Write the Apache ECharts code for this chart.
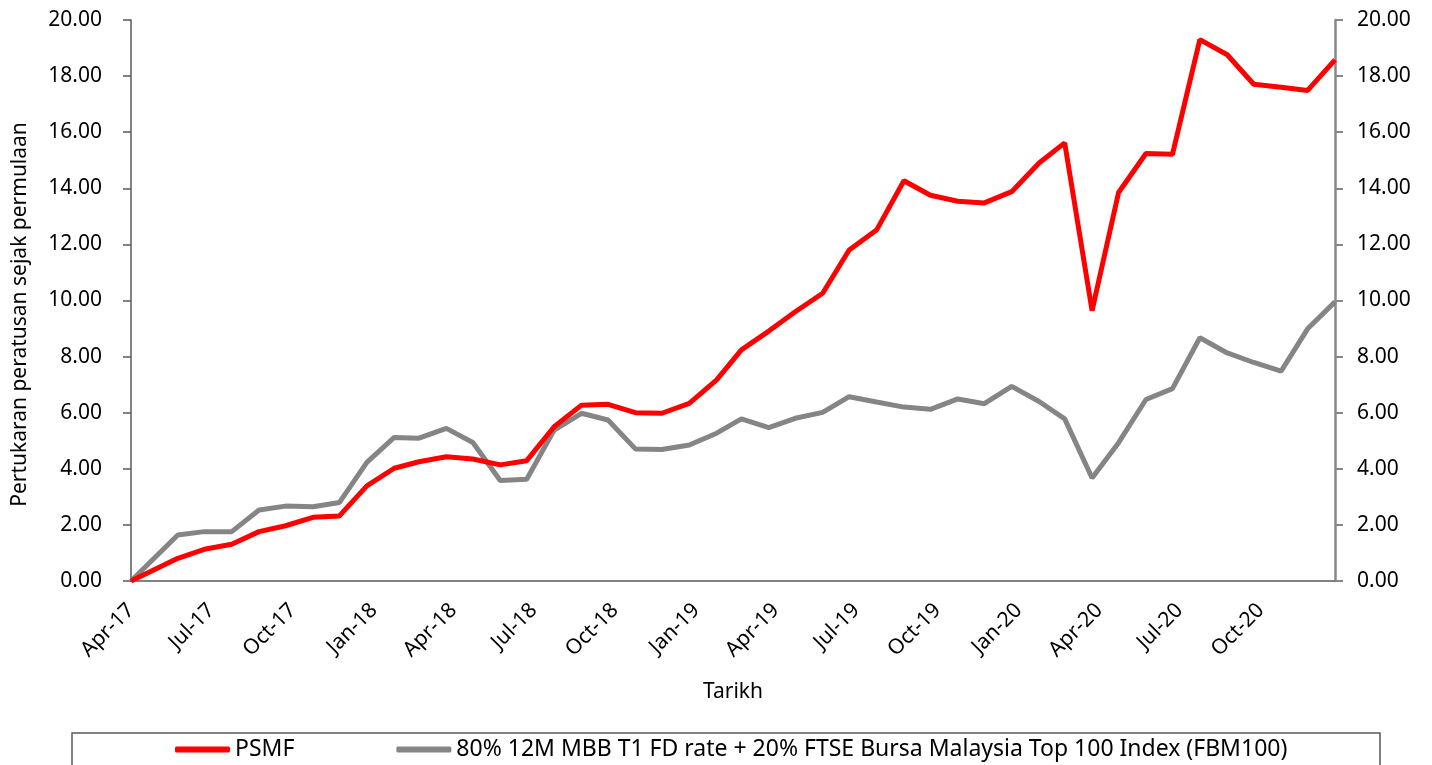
<!DOCTYPE html>
<html>
<head>
<meta charset="utf-8">
<title>PSMF</title>
<script src="https://cdn.jsdelivr.net/npm/echarts@6/dist/echarts.min.js"></script>
<style>
  html, body { margin: 0; padding: 0; background: #fff; }
  #chart { width: 1432px; height: 765px; }
</style>
</head>
<body>
<div id="chart"></div>
<script>
// first point is the fund start, the rest are month ends
var dates = [
  '2017-04-08',
  '2017-05-31', '2017-06-30', '2017-07-31', '2017-08-31', '2017-09-30', '2017-10-31', '2017-11-30', '2017-12-31',
  '2018-01-31', '2018-02-28', '2018-03-31', '2018-04-30', '2018-05-31', '2018-06-30',
  '2018-07-31', '2018-08-31', '2018-09-30', '2018-10-31', '2018-11-30', '2018-12-31',
  '2019-01-31', '2019-02-28', '2019-03-31', '2019-04-30', '2019-05-31', '2019-06-30',
  '2019-07-31', '2019-08-31', '2019-09-30', '2019-10-31', '2019-11-30', '2019-12-31',
  '2020-01-31', '2020-02-29', '2020-03-31', '2020-04-30', '2020-05-31', '2020-06-30',
  '2020-07-31', '2020-08-31', '2020-09-30', '2020-10-31', '2020-11-30', '2020-12-31'
];

var psmf = [
  0,
  0.81, 1.13, 1.31, 1.76, 1.97, 2.27, 2.32, 3.39,
  4.02, 4.25, 4.43, 4.35, 4.14, 4.29,
  5.50, 6.27, 6.30, 6.00, 5.98, 6.33,
  7.17, 8.24, 8.91, 9.60, 10.26, 11.80,
  12.51, 14.27, 13.75, 13.54, 13.48, 13.88,
  14.90, 15.62, 9.64, 13.85, 15.24, 15.21,
  19.30, 18.76, 17.71, 17.60, 17.49, 18.58
];

var benchmark = [
  0,
  1.64, 1.76, 1.76, 2.53, 2.67, 2.65, 2.80, 4.23,
  5.12, 5.09, 5.44, 4.94, 3.58, 3.63,
  5.38, 5.98, 5.74, 4.71, 4.69, 4.85,
  5.27, 5.78, 5.47, 5.80, 6.01, 6.57,
  6.38, 6.20, 6.12, 6.49, 6.32, 6.94,
  6.40, 5.78, 3.67, 4.93, 6.47, 6.86,
  8.67, 8.13, 7.79, 7.48, 8.99, 9.95
];

// label dates: every 3 months counted from the start date
var tickDates = [
  '2017-04-08', '2017-07-08', '2017-10-08', '2018-01-08', '2018-04-08', '2018-07-08',
  '2018-10-08', '2019-01-08', '2019-04-08', '2019-07-08', '2019-10-08', '2020-01-08',
  '2020-04-08', '2020-07-08', '2020-10-08'
];

var monthNames = ['Jan', 'Feb', 'Mar', 'Apr', 'May', 'Jun', 'Jul', 'Aug', 'Sep', 'Oct', 'Nov', 'Dec'];
var seriesNames = ['PSMF', '80% 12M MBB T1 FD rate + 20% FTSE Bursa Malaysia Top 100 Index (FBM100)'];

function toTime(s) {
  var p = s.split('-');
  return Date.UTC(+p[0], +p[1] - 1, +p[2]);
}

var chart = echarts.init(document.getElementById('chart'));
var axisFont = '"Noto Sans", "DejaVu Sans", sans-serif';

var option = {
  animation: false,
  backgroundColor: '#fff',
  grid: { left: 131, right: 97, top: 20, bottom: 184 },
  legend: {
    left: 175,
    top: 738,
    padding: 0,
    itemWidth: 55,
    itemHeight: 6,
    itemGap: 102,
    icon: 'roundRect',
    textStyle: { fontFamily: axisFont, fontSize: 23, color: '#000' },
    data: seriesNames
  },
  graphic: [{
    type: 'rect',
    shape: { x: 72, y: 733, width: 1308, height: 60 },
    style: { fill: 'none', stroke: '#595959', lineWidth: 1.5 },
    silent: true
  }],
  xAxis: {
    type: 'value',
    min: toTime(dates[0]),
    max: toTime(dates[dates.length - 1]),
    name: 'Tarikh',
    nameLocation: 'middle',
    nameGap: 101,
    nameTextStyle: { fontFamily: axisFont, fontSize: 21, color: '#000' },
    axisLine: { lineStyle: { color: '#595959', width: 1.5 } },
    axisTick: { show: false },
    splitLine: { show: false },
    axisLabel: {
      customValues: tickDates.map(toTime),
      rotate: 45,
      margin: 26,
      fontFamily: axisFont,
      fontSize: 21,
      color: '#000',
      formatter: function (v) {
        var d = new Date(v);
        return monthNames[d.getUTCMonth()] + '-' + String(d.getUTCFullYear()).slice(2);
      }
    }
  },
  yAxis: [{
    type: 'value',
    min: 0,
    max: 20,
    interval: 2,
    name: 'Pertukaran peratusan sejak permulaan',
    nameLocation: 'middle',
    nameGap: 100,
    nameTextStyle: { fontFamily: axisFont, fontSize: 21, color: '#000', padding: [0, 28, 0, 0] },
    axisLine: { show: true, lineStyle: { color: '#595959', width: 1.5 } },
    axisTick: { show: true, length: 8, lineStyle: { color: '#595959', width: 1.5 } },
    splitLine: { show: false },
    axisLabel: {
      margin: 29,
      fontFamily: axisFont,
      fontSize: 21,
      color: '#000',
      formatter: function (v) { return v.toFixed(2); }
    }
  }, {
    type: 'value',
    position: 'right',
    min: 0,
    max: 20,
    interval: 2,
    axisLine: { show: true, lineStyle: { color: '#888', width: 2.5 } },
    axisTick: { show: true, length: 8, lineStyle: { color: '#888', width: 2 } },
    splitLine: { show: false },
    axisLabel: {
      margin: 22,
      fontFamily: axisFont,
      fontSize: 21,
      color: '#000',
      formatter: function (v) { return v.toFixed(2); }
    }
  }],
  series: [{
    name: seriesNames[0],
    type: 'line',
    data: dates.map(function (d, i) { return [toTime(d), psmf[i]]; }),
    showSymbol: false,
    color: '#ff0000',
    lineStyle: { width: 5, color: '#ff0000' },
    z: 3
  }, {
    name: seriesNames[1],
    type: 'line',
    data: dates.map(function (d, i) { return [toTime(d), benchmark[i]]; }),
    showSymbol: false,
    color: '#858585',
    lineStyle: { width: 5, color: '#858585' },
    z: 2
  }]
};

chart.setOption(option);
</script>
</body>
</html>
